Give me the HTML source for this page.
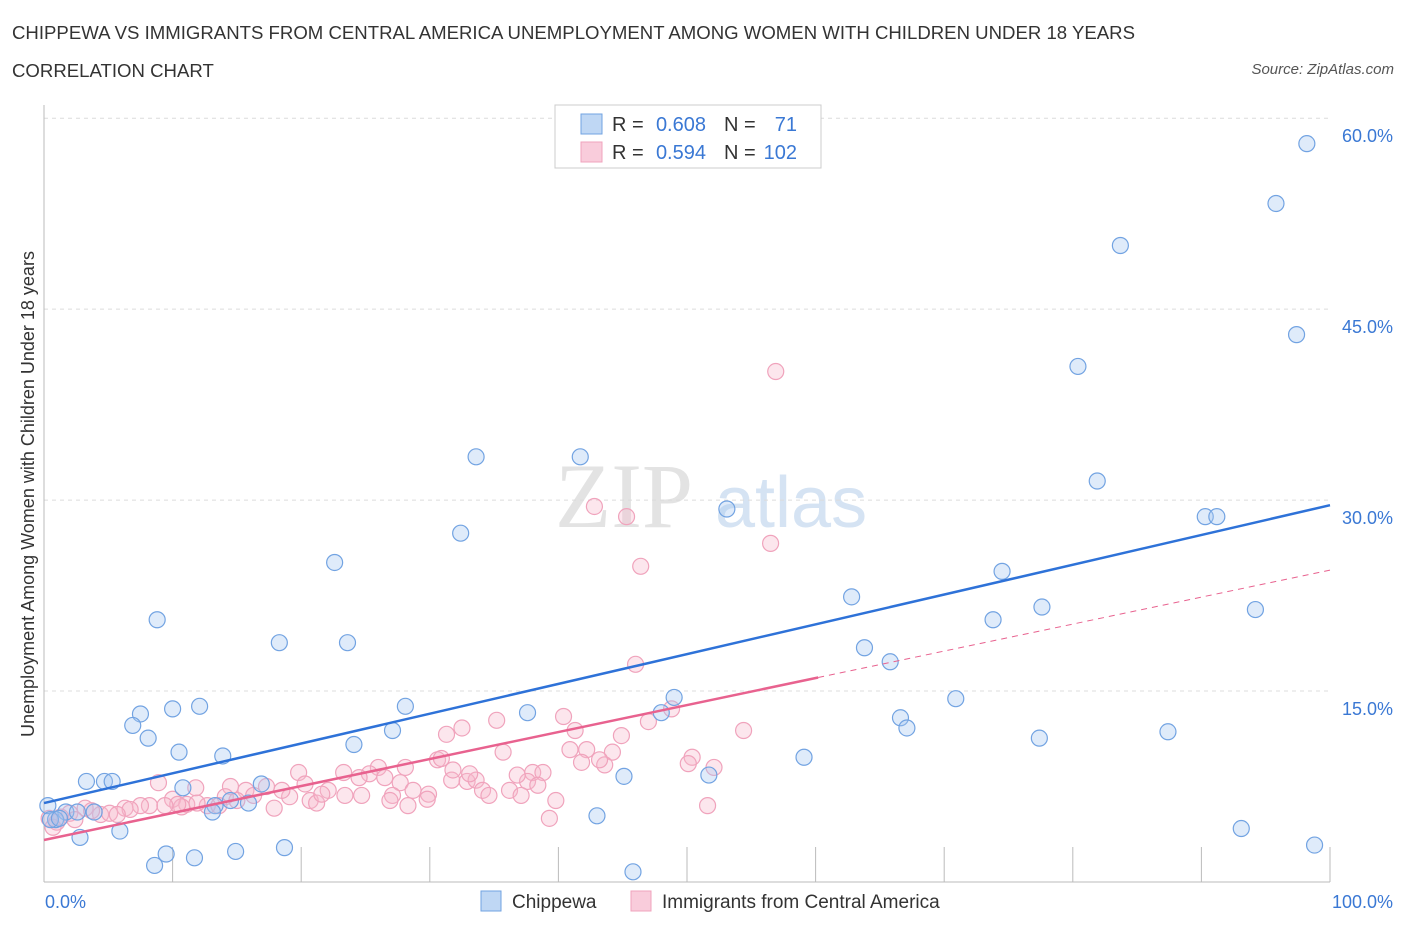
<!DOCTYPE html>
<html><head><meta charset="utf-8"><style>
body{margin:0;background:#fff;font-family:"Liberation Sans",sans-serif;}
#wrap{position:relative;width:1406px;height:930px;overflow:hidden;}
.t{position:absolute;white-space:nowrap;}
</style></head><body>
<div id="wrap">
<div class="t" style="left:12px;top:22px;font-size:18.6px;color:#333;">CHIPPEWA VS IMMIGRANTS FROM CENTRAL AMERICA UNEMPLOYMENT AMONG WOMEN WITH CHILDREN UNDER 18 YEARS</div>
<div class="t" style="left:12px;top:60px;font-size:18.6px;color:#333;">CORRELATION CHART</div>
<div class="t" style="right:12px;top:61px;font-size:15px;color:#555;font-style:italic;">Source: ZipAtlas.com</div>
<svg id="plot" width="1406" height="930" style="position:absolute;left:0;top:0"></svg>
</div>
<script>
const blueX=[98.2,95.8,83.7,97.4,80.4,33.6,41.7,81.9,32.4,53.1,90.3,91.2,22.6,74.5,62.8,77.6,73.8,94.2,8.8,18.3,23.6,63.8,65.8,49.0,28.1,70.9,7.5,10.0,12.1,48.0,37.6,66.6,6.9,67.1,8.1,77.4,87.4,27.1,24.1,10.5,13.9,59.1,3.3,4.7,5.3,45.1,51.7,10.8,16.9,14.5,13.3,15.9,3.9,0.3,1.7,0.9,2.6,5.9,2.8,43.0,93.1,18.7,14.9,11.7,9.5,8.6,45.8,98.8,0.5,1.2,13.1];
const blueY=[58.0,53.3,50.0,43.0,40.5,33.4,33.4,31.5,27.4,29.3,28.7,28.7,25.1,24.4,22.4,21.6,20.6,21.4,20.6,18.8,18.8,18.4,17.3,14.5,13.8,14.4,13.2,13.6,13.8,13.3,13.3,12.9,12.3,12.1,11.3,11.3,11.8,11.9,10.8,10.2,9.9,9.8,7.9,7.9,7.9,8.3,8.4,7.4,7.7,6.4,6.0,6.2,5.5,6.0,5.5,4.9,5.5,4.0,3.5,5.2,4.2,2.7,2.4,1.9,2.2,1.3,0.8,2.9,4.9,5.0,5.5];
const pinkX=[56.9,42.8,45.3,56.5,46.4,46.0,48.8,47.0,40.4,35.2,32.5,31.3,41.3,44.9,54.4,40.9,42.2,44.2,35.7,50.4,30.6,30.9,41.8,50.1,43.6,52.1,19.8,26.0,28.1,23.3,25.3,38.0,38.8,24.5,31.7,32.9,33.6,37.6,8.9,14.5,11.8,20.3,17.3,22.1,15.7,27.7,28.7,29.9,34.1,36.2,38.4,37.1,14.1,10.0,20.7,24.7,27.1,19.1,16.3,8.2,11.1,7.5,6.3,12.7,15.0,21.2,26.9,29.8,23.4,39.8,34.6,6.7,4.4,5.1,3.2,2.0,5.7,1.3,0.4,1.0,2.4,17.9,13.6,10.7,51.6,39.3,28.3,3.7,0.7,10.4,11.9,9.4,18.5,21.6,26.5,31.8,43.2,33.1,36.8];
const pinkY=[40.1,29.5,28.7,26.6,24.8,17.1,13.6,12.6,13.0,12.7,12.1,11.6,11.9,11.5,11.9,10.4,10.4,10.2,10.2,9.8,9.6,9.7,9.4,9.3,9.2,9.0,8.6,9.0,9.0,8.6,8.5,8.6,8.6,8.2,8.0,7.9,8.0,7.9,7.8,7.5,7.4,7.7,7.5,7.2,7.2,7.8,7.2,6.9,7.2,7.2,7.6,6.8,6.7,6.5,6.4,6.8,6.8,6.7,6.8,6.0,6.1,6.0,5.8,6.0,6.4,6.2,6.4,6.5,6.8,6.4,6.8,5.7,5.3,5.4,5.8,5.4,5.3,5.1,5.0,4.7,4.9,5.8,6.0,5.9,6.0,5.0,6.0,5.6,4.3,6.1,6.2,6.0,7.2,6.9,8.2,8.8,9.6,8.5,8.4];
const yTicks=[15,30,45,60];
const yTickLabels=["15.0%","30.0%","45.0%","60.0%"];
const xTicks=[0,10,20,30,40,50,60,70,80,90,100];
const blueFit=[6.2,29.6];
const pinkFit=[3.3,24.5];

const X0=44,X1=1330,Y0=882,YS=12.73;
const sx=v=>X0+(X1-X0)*v/100, sy=v=>Y0-v*YS;
const svg=document.getElementById('plot');
const NS='http://www.w3.org/2000/svg';
function mk(tag,attrs,parent){const e=document.createElementNS(NS,tag);for(const k in attrs)e.setAttribute(k,attrs[k]);(parent||svg).appendChild(e);return e;}

let wm=mk('text',{x:555,y:527,'font-size':92,'font-family':'Liberation Serif, serif',fill:'#e3e3e3'});
wm.textContent='ZIP';


let wm2=mk('text',{x:715,y:527,'font-size':72,'font-family':'Liberation Sans, sans-serif',fill:'#d5e3f3'});
wm2.textContent='atlas';



yTicks.forEach((t,i)=>{
 let g=mk('line',{x1:X0,x2:X1,y1:sy(t),y2:sy(t),stroke:'#dcdcdc','stroke-dasharray':'4,4'});
 
 
 let l=mk('text',{x:1393,y:sy(t)+24,'text-anchor':'end','font-size':18,fill:'#3a78d4'});
 l.textContent=yTickLabels[i];
 
 
});
let ya=mk('line',{x1:X0,x2:X0,y1:105,y2:Y0,stroke:'#bbb'});


let xa=mk('line',{x1:X0,x2:X1,y1:Y0,y2:Y0,stroke:'#bbb'});


xTicks.forEach(t=>{
 let k=mk('line',{x1:sx(t),x2:sx(t),y1:847,y2:Y0,stroke:'#bbb'});
 
 
});
let xl0=mk('text',{x:45,y:908,'font-size':18,fill:'#3a78d4'});xl0.textContent='0.0%';


let xl1=mk('text',{x:1393,y:908,'text-anchor':'end','font-size':18,fill:'#3a78d4'});xl1.textContent='100.0%';


let yt=mk('text',{x:0,y:0,'font-size':18,fill:'#333','text-anchor':'middle',transform:'translate(34,494) rotate(-90)'});
yt.textContent='Unemployment Among Women with Children Under 18 years';



function pts(xs,ys,fill,stroke,name){
 xs.forEach((x,i)=>{
  let c=mk('circle',{cx:sx(x),cy:sy(ys[i]),r:8,fill:fill,stroke:stroke,'stroke-width':1.2});
  
  
 });
}
pts(pinkX,pinkY,'rgba(246,182,204,0.35)','#f0a3bc','pink-point');
pts(blueX,blueY,'rgba(164,198,240,0.35)','#72a3e2','blue-point');

let bl=mk('line',{x1:sx(0),y1:sy(blueFit[0]),x2:sx(100),y2:sy(blueFit[1]),stroke:'#2e72d8','stroke-width':2.5});


const pAt=v=>pinkFit[0]+(pinkFit[1]-pinkFit[0])*v/100;
let pl=mk('line',{x1:sx(0),y1:sy(pAt(0)),x2:sx(60.2),y2:sy(pAt(60.2)),stroke:'#e8628f','stroke-width':2.5});


let pd=mk('line',{x1:sx(60.2),y1:sy(pAt(60.2)),x2:sx(100),y2:sy(pAt(100)),stroke:'#e8628f','stroke-width':1,'stroke-dasharray':'6,5'});



let lb=mk('rect',{x:555,y:105,width:266,height:63,fill:'#fff',stroke:'#ccc'});


[[113,'rgba(164,198,240,0.7)','#72a3e2','0.608','71','stats-chippewa'],[141,'rgba(246,182,204,0.7)','#f0a3bc','0.594','102','stats-immigrants']].forEach(r=>{
 let s=mk('rect',{x:581,y:r[0]+1,width:21,height:20,fill:r[1],stroke:r[2]});
 
 
 let t=mk('text',{x:612,y:r[0]+18,'font-size':20,fill:'#333'});
 t.textContent='R = ';
 
 
 let tv=mk('text',{x:706,y:r[0]+18,'font-size':20,fill:'#3a78d4','text-anchor':'end'});
 tv.textContent=r[3];
 
 
 let n=mk('text',{x:724,y:r[0]+18,'font-size':20,fill:'#333'});
 n.textContent='N =';
 
 
 let nv=mk('text',{x:797,y:r[0]+18,'font-size':20,fill:'#3a78d4','text-anchor':'end'});
 nv.textContent=r[4];
 
 
});

[[481,'rgba(164,198,240,0.7)','#72a3e2','Chippewa','legend-chippewa'],[631,'rgba(246,182,204,0.7)','#f0a3bc','Immigrants from Central America','legend-immigrants']].forEach(r=>{
 let s=mk('rect',{x:r[0],y:891,width:20,height:20,fill:r[1],stroke:r[2]});
 
 
 let t=mk('text',{x:r[0]+31,y:908,'font-size':19,fill:'#333'});
 t.textContent=r[3];
 
 
});
</script>
</body></html>
